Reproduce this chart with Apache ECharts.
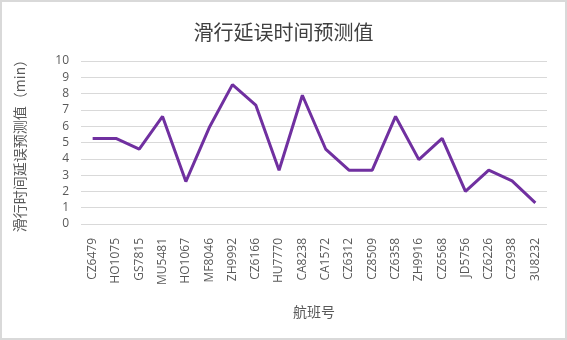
<!DOCTYPE html>
<html>
<head>
<meta charset="utf-8">
<script src="https://cdn.jsdelivr.net/npm/echarts@6/dist/echarts.min.js"></script>
<style>
  html, body { margin: 0; padding: 0; background: #fff; }
  #chart {
    width: 567px;
    height: 340px;
    box-sizing: border-box;
    border: 2px solid #d9d9d9;
  }
</style>
</head>
<body>
<div id="chart"></div>
<script>
// 航班号
const flights = [
  'CZ6479', 'HO1075', 'GS7815', 'MU5481', 'HO1067', 'MF8046', 'ZH9992',
  'CZ6166', 'HU7770', 'CA8238', 'CA1572', 'CZ6312', 'CZ8509', 'CZ6358',
  'ZH9916', 'CZ6568', 'JD5756', 'CZ6226', 'CZ3938', '3U8232'
];
// 滑行延误时间预测值 (min)
const delayValues = [
  5.25, 5.25, 4.6, 6.6, 2.6, 5.9, 8.55,
  7.3, 3.3, 7.9, 4.6, 3.3, 3.3, 6.6,
  3.95, 5.25, 2.0, 3.3, 2.65, 1.3
];

const chart = echarts.init(document.getElementById('chart'));

chart.setOption({
  animation: false,
  title: {
    text: '滑行延误时间预测值',
    left: 'center',
    top: 15,
    textStyle: {
      fontFamily: 'Noto Sans CJK SC',
      fontSize: 20,
      fontWeight: 'normal',
      color: '#404040'
    }
  },
  grid: {
    left: 79,
    right: 18,
    top: 59,
    bottom: 114
  },
  xAxis: {
    type: 'category',
    data: flights,
    name: '航班号',
    nameLocation: 'middle',
    nameGap: 81,
    nameTextStyle: {
      fontFamily: 'Noto Sans CJK SC',
      fontSize: 14,
      color: '#595959'
    },
    axisLine: { show: false },
    axisTick: { show: false },
    axisLabel: {
      rotate: 90,
      interval: 0,
      margin: 14,
      fontFamily: 'Open Sans',
      fontSize: 12,
      color: '#595959'
    }
  },
  yAxis: {
    type: 'value',
    min: 0,
    max: 10,
    interval: 1,
    name: '滑行时间延误预测值（min）',
    nameLocation: 'middle',
    nameGap: 54,
    nameRotate: 90,
    nameTextStyle: {
      fontFamily: 'Noto Sans CJK SC',
      fontSize: 14,
      color: '#595959'
    },
    axisLabel: {
      margin: 12,
      fontFamily: 'Open Sans',
      fontSize: 12,
      color: '#595959'
    },
    splitLine: {
      lineStyle: { color: '#d9d9d9', width: 1 }
    }
  },
  series: [
    {
      type: 'line',
      data: delayValues,
      symbol: 'none',
      lineStyle: { color: '#7030a0', width: 3 },
      itemStyle: { color: '#7030a0' }
    }
  ]
});
</script>
</body>
</html>
